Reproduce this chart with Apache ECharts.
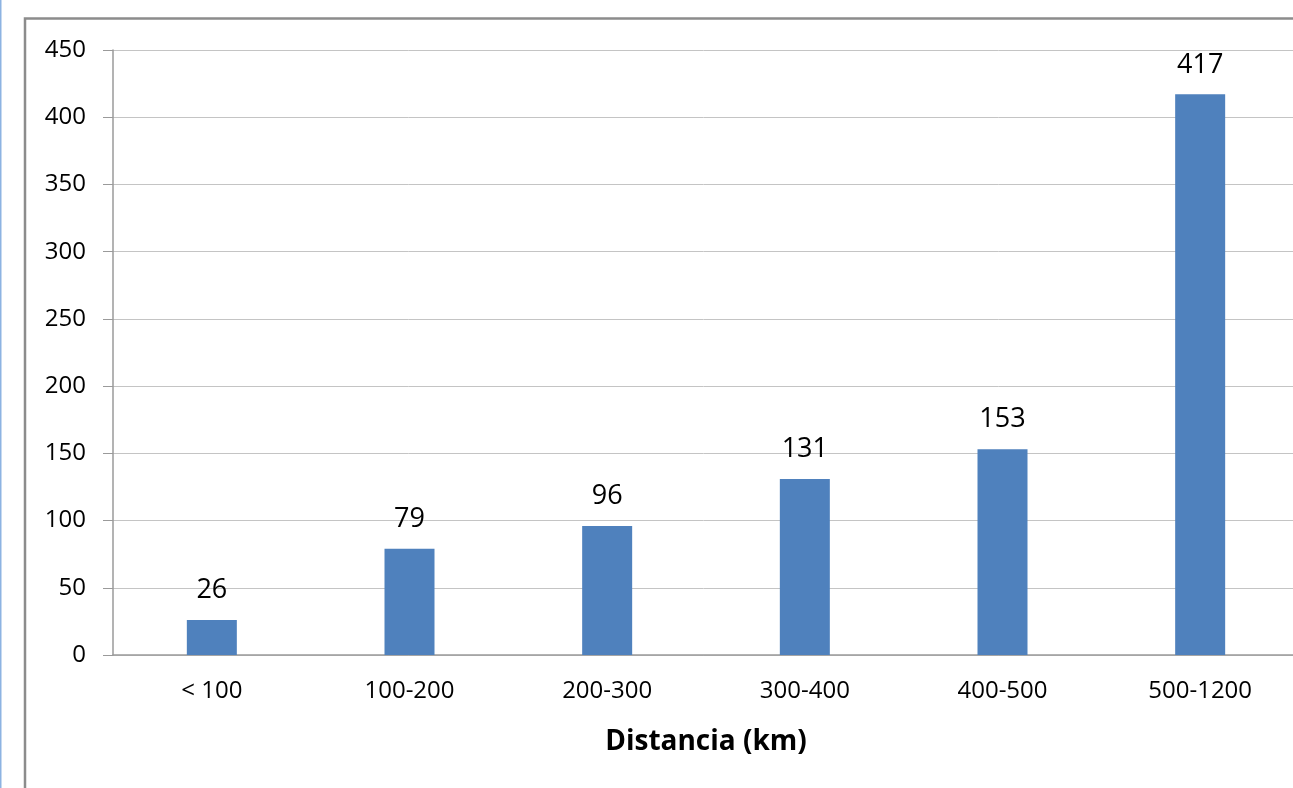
<!DOCTYPE html>
<html>
<head>
<meta charset="utf-8">
<title>Distancia (km)</title>
<script src="https://cdn.jsdelivr.net/npm/echarts@6/dist/echarts.min.js"></script>
<style>
  html, body { margin: 0; padding: 0; background: #ffffff; }
  #chart { width: 1293px; height: 788px; }
</style>
</head>
<body>
<div id="chart"></div>
<script>
// Distance bands and counts
const categories = ['< 100', '100-200', '200-300', '300-400', '400-500', '500-1200'];
const counts = [26, 79, 96, 131, 153, 417];
const yTicks = { min: 0, max: 450, interval: 50 };
const xTitle = 'Distancia (km)';

const fontFamily = '"Open Sans", "Liberation Sans", sans-serif';

const chart = echarts.init(document.getElementById('chart'), null, { renderer: 'canvas' });

chart.setOption({
  animation: false,
  backgroundColor: '#ffffff',
  // plot area runs slightly past the right edge of the canvas
  grid: {
    left: 113, width: 1186, top: 50, bottom: 133,
    containLabel: false,
    outerBoundsMode: 'none'
  },
  graphic: [
    // outer chart frame
    {
      type: 'rect', silent: true, z: -1,
      shape: { x: 25, y: 18.5, width: 1400, height: 900 },
      style: { fill: 'none', stroke: '#8c8c8c', lineWidth: 2.5 }
    },
    // thin blue page edge
    {
      type: 'rect', silent: true, z: -1,
      shape: { x: 0, y: 0, width: 1.5, height: 788 },
      style: { fill: '#8db3e2' }
    }
  ],
  xAxis: {
    type: 'category',
    data: categories,
    name: xTitle,
    nameLocation: 'middle',
    nameGap: 73,
    nameTextStyle: { fontFamily, fontSize: 28, fontWeight: 'bold', color: '#000' },
    axisLine: { show: true, lineStyle: { color: '#9a9a9a', width: 1.5 } },
    axisTick: { show: false },
    axisLabel: { fontFamily, fontSize: 24, color: '#000', margin: 24 },
    splitLine: { show: false }
  },
  yAxis: {
    type: 'value',
    min: yTicks.min,
    max: yTicks.max,
    interval: yTicks.interval,
    axisLine: { show: true, lineStyle: { color: '#9a9a9a', width: 1.5 } },
    axisTick: { show: true, inside: false, length: 10, lineStyle: { color: '#9a9a9a', width: 1 } },
    axisLabel: { fontFamily, fontSize: 24, color: '#000', margin: 27 },
    splitLine: { show: true, lineStyle: { color: '#c4c4c4', width: 1 } }
  },
  series: [{
    type: 'bar',
    data: counts,
    barWidth: 50,
    itemStyle: { color: '#4f81bd' },
    label: {
      show: true,
      position: 'top',
      distance: 16,
      fontFamily,
      fontSize: 27,
      color: '#000'
    }
  }]
});
</script>
</body>
</html>
